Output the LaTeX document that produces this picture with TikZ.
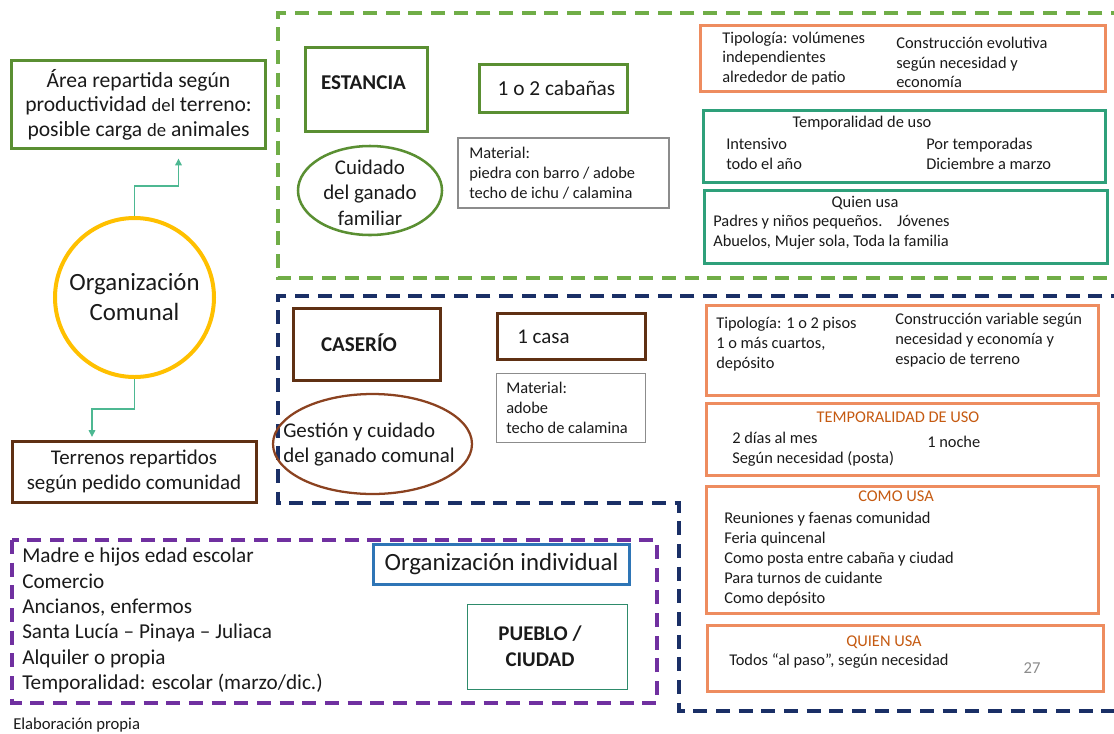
\documentclass[tikz,border=0pt]{standalone}
\usepackage{fontspec}
\setmainfont{Carlito}
\usetikzlibrary{arrows.meta,shapes.geometric}

\definecolor{leaf}{HTML}{5A8F32}
\definecolor{leafdash}{HTML}{70AD47}
\definecolor{gold}{HTML}{FFC000}
\definecolor{mint}{HTML}{4DB892}
\definecolor{bark}{HTML}{5F3013}
\definecolor{rust}{HTML}{8B4220}
\definecolor{navy}{HTML}{1A2F66}
\definecolor{violet}{HTML}{7030A0}
\definecolor{salmon}{HTML}{EE8C5F}
\definecolor{sea}{HTML}{2EA07A}
\definecolor{ochre}{HTML}{C55A11}
\definecolor{steel}{HTML}{2E75B6}
\definecolor{pine}{HTML}{2E8B6B}
\definecolor{ash}{HTML}{8C8C8C}
\definecolor{ink}{HTML}{1A1A1A}

\newcommand\fsmall{\fontsize{12.3}{15}\selectfont}
\newcommand\fmid{\fontsize{15.7}{19}\selectfont}
\newcommand\fbig{\fontsize{18.6}{22.5}\selectfont}
\newcommand\fdel{\fontsize{14}{18.4}\selectfont}

\tikzset{
  sz/.style 2 args={minimum width=#1*0.75pt,minimum height=#2*0.75pt},
  box/.style={draw,rectangle,inner sep=0pt,line width=2.25pt},
  thinbox/.style={draw,rectangle,inner sep=0pt,line width=1.1pt},
  zone/.style={line width=2.4pt,dash pattern=on 10.5pt off 6.5pt},
  txt/.style={inner sep=0pt,anchor=west,align=left,text=ink,font=\fsmall},
  lbl/.style={inner sep=0pt,align=center,text=ink},
  link/.style={mint,line width=0.8pt,-{Triangle[length=5pt,width=5pt]}},
}

\begin{document}
\begin{tikzpicture}[x=0.75pt,y=-0.75pt]
\useasboundingbox (0,0) rectangle (1114,733);

% zonas punteadas
\draw[zone,leafdash] (1125,13) -| (278,278) -- (1125,278);
\draw[zone,navy] (1125,296) -| (278,503) -| (679,711) -- (1125,711);
\draw[zone,violet] (12,540) rectangle (657,703);

% organizacion comunal
\node[box,leaf,sz={254}{88},lbl,font=\fontsize{16.2}{18.4}\selectfont] (area) at (138.5,104.5)
  {Área repartida según\\productividad {\fdel del} terreno:\\posible carga {\fdel de} animales};
\node[circle,draw=gold,line width=3pt,inner sep=0pt,minimum size=159*0.75pt,lbl,font=\fbig] (comunal) at (134.5,297.5)
  {Organización\\Comunal};
\node[box,bark,sz={244}{61},lbl,font=\fmid] (terrenos) at (134,471.5)
  {Terrenos repartidos\\según pedido comunidad};

\draw[link,shorten >=6.5pt] (comunal.north) -- ++(0,-30) -| ([xshift=30pt]area.south);
\draw[link,shorten >=2pt] (comunal.south) -- ++(0,30) -| ([xshift=-31.5pt]terrenos.north);

% estancia
\node[box,leaf,sz={122}{84}] (estancia) at (366.5,89) {};
\node[lbl,font=\fontsize{15.8}{18}\selectfont\bfseries] (estanciaT) at (363.5,83) {ESTANCIA};
\node[box,leaf,sz={148}{48}] (cabanas) at (553.5,88) {};
\node[lbl,font=\fontsize{16}{19}\selectfont] (cabanasT) at (556.5,88) {1 o 2 cabañas};
\node[ellipse,draw=leaf,line width=1.9pt,minimum width=144*0.75pt,minimum height=89*0.75pt] (familiar) at (370,190.5) {};
\node[lbl,font=\fmid] (familiarT) at (370,192.5) {Cuidado\\del ganado\\familiar};
\node[thinbox,ash,sz={211}{70}] (matA) at (563.5,173) {};
\node[txt] (matAT) at (469,173.5) {Material:\\piedra con barro / adobe\\techo de ichu / calamina};

\node[box,salmon,sz={405}{66}] (tipoA) at (903,58.5) {};
\node[txt,font=\fontsize{12.3}{14.6}\selectfont] (tipoAL) at (722,58.5) {Tipología: volúmenes\\independientes\\alrededor de patio};
\node[txt,font=\fontsize{12.3}{14.6}\selectfont] (tipoAR) at (896,62.5) {Construcción evolutiva\\según necesidad y\\economía};

\node[box,sea,sz={402}{72}] (tempA) at (904,146) {};
\node[lbl,font=\fsmall] (tempAT) at (862,123) {Temporalidad de uso};
\node[txt] (tempAL) at (726,153.5) {Intensivo\\todo el año};
\node[txt] (tempAR) at (926,153.5) {Por temporadas\\Diciembre a marzo};

\node[box,sea,sz={403}{73}] (quienA) at (905.5,226.5) {};
\node[lbl,font=\fsmall] (quienAT) at (865,203) {Quien usa};
\node[txt] (quienAL) at (713,232.5) {Padres y niños pequeños.\hspace{11pt}Jóvenes\\Abuelos, Mujer sola, Toda la familia};

% caserio
\node[box,bark,sz={147}{72}] (caserio) at (367,344.5) {};
\node[lbl,font=\fontsize{15.8}{18}\selectfont\bfseries] (caserioT) at (359,343) {CASERÍO};
\node[box,bark,sz={148}{46}] (casa) at (571.5,336.5) {};
\node[txt,font=\fontsize{15.7}{18}\selectfont] (casaT) at (517,337) {1 casa};
\node[thinbox,ash,sz={149}{69}] (matB) at (571,408) {};
\node[txt] (matBT) at (506,408) {Material:\\adobe\\techo de calamina};
\node[ellipse,draw=rust,line width=1.7pt,minimum width=199*0.75pt,minimum height=100*0.75pt] (gestion) at (372.5,444) {};
\node[txt,font=\fmid] (gestionT) at (283,444.5) {Gestión y cuidado\\del ganado comunal};

\node[box,salmon,sz={392}{90}] (tipoB) at (902.5,350.5) {};
\node[txt] (tipoBL) at (716,344.5) {Tipología: 1 o 2 pisos\\1 o más cuartos,\\depósito};
\node[txt] (tipoBR) at (895,340.5) {Construcción variable según\\necesidad y economía y\\espacio de terreno};

\node[box,salmon,sz={392}{72}] (tempB) at (902.5,439.5) {};
\node[lbl,font=\fsmall,text=ochre] (tempBT) at (898,417) {TEMPORALIDAD DE USO};
\node[txt] (tempBL) at (732,449) {2 días al mes\\Según necesidad (posta)};
\node[txt] (tempBR) at (927,442) {1 noche};

\node[box,salmon,sz={392}{127}] (comoB) at (902.5,550) {};
\node[lbl,font=\fsmall,text=ochre] (comoBT) at (896,496) {COMO USA};
\node[txt] (comoBL) at (724,559) {Reuniones y faenas comunidad\\Feria quincenal\\Como posta entre cabaña y ciudad\\Para turnos de cuidante\\Como depósito};

\node[box,salmon,sz={396}{66}] (quienB) at (905.5,658.5) {};
\node[lbl,font=\fsmall,text=ochre] (quienBT) at (884,642) {QUIEN USA};
\node[txt] (quienBL) at (729,661) {Todos “al paso”, según necesidad};
\node[lbl,font=\fontsize{12.5}{15}\selectfont,text=ash] (pagina) at (1032,668) {27};

% pueblo / ciudad
\node[box,steel,sz={256}{40},lbl,font=\fbig] (individual) at (501.5,564.5) {Organización individual};
\node[thinbox,pine,sz={160}{85}] (pueblo) at (547.5,647) {};
\node[lbl,font=\fontsize{15.7}{19.5}\selectfont\bfseries] (puebloT) at (540,646) {PUEBLO /\\CIUDAD};
\node[txt,font=\fontsize{15.9}{19}\selectfont] (puebloL) at (22,620.5)
  {Madre e hijos edad escolar\\Comercio\\Ancianos, enfermos\\Santa Lucía – Pinaya – Juliaca\\Alquiler o propia\\Temporalidad: escolar (marzo/dic.)};

\node[txt,font=\fontsize{12.5}{15}\selectfont] (fuente) at (13,725) {Elaboración propia};
\end{tikzpicture}
\end{document}
